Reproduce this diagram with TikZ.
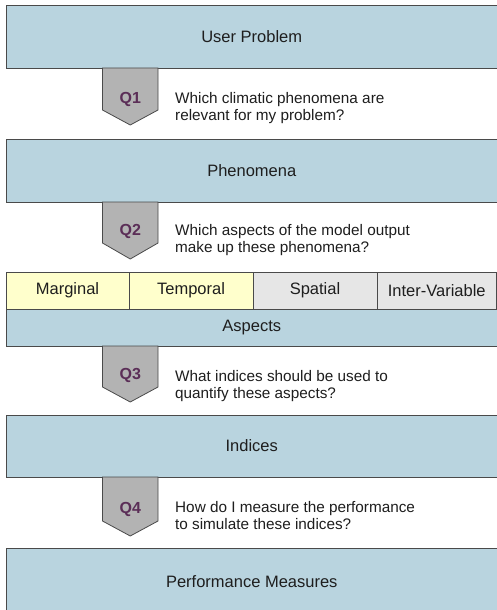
\documentclass[tikz,border=0pt]{standalone}
\usepackage{fontspec}
\setmainfont{Liberation Sans}
\definecolor{boxblue}{HTML}{B9D4DF}
\definecolor{boxline}{HTML}{4A4A4A}
\definecolor{chevgray}{HTML}{B3B3B3}
\definecolor{qpurple}{HTML}{5B2E57}
\definecolor{cellyellow}{HTML}{FFFFCC}
\definecolor{cellgray}{HTML}{E6E6E6}
\definecolor{txt}{HTML}{1E1E1E}
\tikzset{
  mainbox/.style={draw=boxline, line width=1pt, fill=boxblue, rectangle, minimum width=491pt, inner sep=0pt, text=txt, font=\fontsize{16.5}{19}\selectfont},
  cellbox/.style={draw=boxline, line width=0.8pt, rectangle, minimum height=37pt, inner sep=0pt, text=txt, font=\fontsize{16.5}{19}\selectfont},
  chevron/.style={draw=boxline, line width=0.8pt, fill=chevgray},
  qlabel/.style={text=qpurple, font=\bfseries\fontsize{16}{19}\selectfont, inner sep=0pt},
  qtext/.style={text=txt, font=\fontsize{15.3}{17}\selectfont, align=left, anchor=west, inner sep=0pt}
}
\begin{document}
\begin{tikzpicture}[x=1pt, y=-1pt]
\useasboundingbox (0,0) rectangle (497,610);
\fill[white] (0,0) rectangle (497,610);
% boxes
\node[mainbox, minimum height=62.5pt] (up) at (251.75,37) {User Problem};
\node[mainbox, minimum height=63pt] (ph) at (251.75,170.5) {Phenomena};
\node[cellbox, fill=cellyellow, minimum width=123pt] (marg) at (67.5,290.5) {Marginal};
\node[cellbox, fill=cellyellow, minimum width=124pt] (temp) at (191,290.5) {Temporal};
\node[cellbox, fill=cellgray, minimum width=124pt] (spat) at (315,290.5) {Spatial};
\node[cellbox, fill=cellgray, minimum width=119.5pt] (inter) at (436.75,290.5) {Inter-Variable};
\node[mainbox, minimum height=37pt, line width=0.8pt] (asp) at (251.75,327.5) {Aspects};
\node[mainbox, minimum height=62pt] (ind) at (251.75,446) {Indices};
\node[mainbox, minimum height=68pt] (perf) at (251.75,582) {Performance Measures};
% chevrons
\draw[chevron] (102.5,68) coordinate (c1) -- (158,68) -- (158,110) -- (130.25,125) -- (102.5,110) -- cycle;
\node[qlabel] (q1) at (130.25,99) {Q1};
\node[qtext] (t1) at (175,108.5) {Which climatic phenomena are\\relevant for my problem?};
\draw[chevron] (102.5,202) coordinate (c2) -- (158,202) -- (158,243) -- (130.25,259) -- (102.5,243) -- cycle;
\node[qlabel] (q2) at (130.25,231) {Q2};
\node[qtext] (t2) at (175,240.5) {Which aspects of the model output\\make up these phenomena?};
\draw[chevron] (102.5,346) coordinate (c3) -- (158,346) -- (158,387) -- (130.25,402) -- (102.5,387) -- cycle;
\node[qlabel] (q3) at (130.25,375) {Q3};
\node[qtext] (t3) at (175,386.5) {What indices should be used to\\quantify these aspects?};
\draw[chevron] (102.5,477) coordinate (c4) -- (158,477) -- (158,521) -- (130.25,536) -- (102.5,521) -- cycle;
\node[qlabel] (q4) at (130.25,509) {Q4};
\node[qtext] (t4) at (175,516) {How do I measure the performance\\to simulate these indices?};
\end{tikzpicture}
\end{document}
